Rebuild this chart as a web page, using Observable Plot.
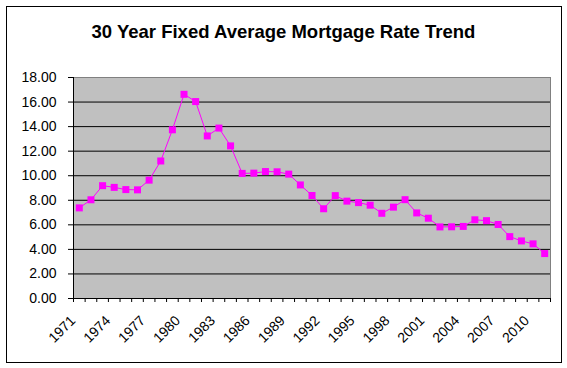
<!DOCTYPE html>
<html><head><meta charset="utf-8">
<script src="https://cdn.jsdelivr.net/npm/d3@7"></script>
<script src="https://cdn.jsdelivr.net/npm/@observablehq/plot@0.6"></script>
<style>
body{margin:0;background:#fff;}
#wrap{position:relative;width:567px;height:368px;font-family:"Liberation Sans",Arial,sans-serif;overflow:hidden;}
#border{position:absolute;left:6px;top:6px;width:556px;height:357px;border:1px solid #000;box-sizing:border-box;pointer-events:none;}
#title{position:absolute;left:0;top:23px;width:567px;text-align:center;font-weight:bold;font-size:18.5px;line-height:18px;color:#000;}
#chart{position:absolute;left:0;top:0;}
</style>
</head><body>
<div id="wrap"><div id="chart"></div><div id="title">30 Year Fixed Average Mortgage Rate Trend</div><div id="border"></div></div>
<script>
const years = [1971,1972,1973,1974,1975,1976,1977,1978,1979,1980,1981,1982,1983,1984,1985,1986,1987,1988,1989,1990,1991,1992,1993,1994,1995,1996,1997,1998,1999,2000,2001,2002,2003,2004,2005,2006,2007,2008,2009,2010,2011];
const rates = [7.38,8.04,9.19,9.05,8.87,8.85,9.64,11.20,13.74,16.63,16.04,13.24,13.88,12.43,10.19,10.21,10.34,10.32,10.13,9.25,8.39,7.31,8.38,7.93,7.81,7.60,6.94,7.44,8.05,6.97,6.54,5.83,5.84,5.87,6.41,6.34,6.03,5.04,4.69,4.45,3.66];
const yTicks = [0,2,4,6,8,10,12,14,16,18];
const xLabels = [1971,1974,1977,1980,1983,1986,1989,1992,1995,1998,2001,2004,2007,2010];

const data = years.map((y,i)=>({year:y, rate:rates[i]}));
const L = 73, R = 550, T = 77, B = 298, W = 567, H = 368;
const step = (R - L) / years.length;

const chart = Plot.plot({
  width: W, height: H,
  marginLeft: L, marginRight: W - R, marginTop: T, marginBottom: H - B,
  style: {background: "transparent", fontFamily: "'Liberation Sans', Arial, sans-serif", fontSize: "14px", color: "#000", overflow: "visible"},
  x: {type: "point", domain: years, padding: 0.5, round: false, axis: null, label: null},
  y: {domain: [0, 18], axis: null, label: null},
  marks: [
    Plot.frame({fill: "#c0c0c0"}),
    Plot.ruleY(yTicks.filter(d => d > 0 && d < 18), {stroke: "#000", strokeWidth: 1}),
    Plot.frame({stroke: "#808080"}),
    Plot.ruleY([0], {stroke: "#000"}),
    Plot.ruleX([years[0]], {dx: -step / 2, y1: 0, y2: 18, stroke: "#000"}),
    Plot.axisY(yTicks, {tickSize: 5, tickPadding: 12, tickFormat: d3.format(".2f"), fontSize: 14, stroke: "#000", fill: "#000", label: null}),
    Plot.axisX(years, {tickSize: 4, tickFormat: () => "", dx: -step / 2, stroke: "#000", label: null}),
    Plot.axisX([years[years.length - 1]], {tickSize: 4, tickFormat: () => "", dx: step / 2, stroke: "#000", label: null}),
    Plot.text(xLabels, {x: d => d, text: d => String(d), frameAnchor: "bottom", rotate: -45, textAnchor: "end", dx: -3, dy: 23, fontSize: 14, fill: "#000"}),
    Plot.line(data, {x: "year", y: "rate", stroke: "#ff00ff", strokeWidth: 1}),
    Plot.dot(data, {x: "year", y: "rate", symbol: "square", r: 3.95, fill: "#ff00ff", stroke: "none"})
  ]
});
document.getElementById("chart").appendChild(chart);
</script>
</body></html>
